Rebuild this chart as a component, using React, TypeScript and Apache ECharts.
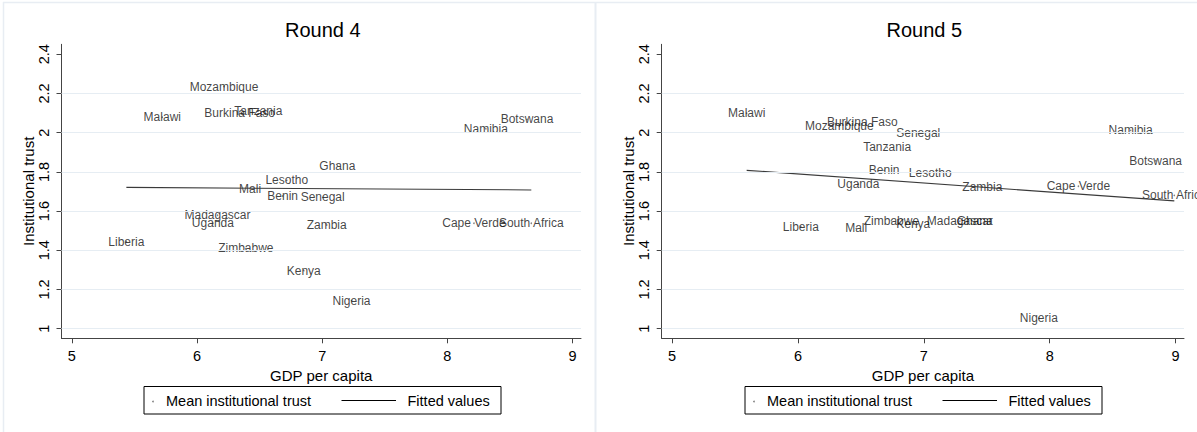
import React, { useEffect, useRef } from "react";
import * as echarts from "echarts";

// ---------- data ----------
const countries4 = [
  "Mozambique", "Malawi", "Burkina Faso", "Tanzania", "Botswana", "Namibia", "Ghana",
  "Lesotho", "Mali", "Benin", "Senegal", "Madagascar", "Uganda", "Zambia", "Cape Verde",
  "South Africa", "Liberia", "Zimbabwe", "Kenya", "Nigeria",
];
const gdp4 = [
  6.216, 5.723, 6.341, 6.49, 8.636, 8.307, 7.121,
  6.717, 6.424, 6.684, 7.004, 6.164, 6.127, 7.036, 8.212,
  8.67, 5.436, 6.39, 6.853, 7.234,
];
const trust4 = [
  2.235, 2.079, 2.099, 2.112, 2.068, 2.02, 1.832,
  1.757, 1.714, 1.677, 1.67, 1.579, 1.538, 1.529, 1.538,
  1.538, 1.444, 1.41, 1.296, 1.143,
];
const fitX4 = [5.436, 8.67];
const fitY4 = [1.721, 1.708];

const countries5 = [
  "Malawi", "Burkina Faso", "Mozambique", "Senegal", "Tanzania", "Namibia", "Botswana",
  "Benin", "Lesotho", "Uganda", "Zambia", "Cape Verde", "South Africa", "Liberia", "Mali",
  "Zimbabwe", "Kenya", "Madagascar", "Ghana", "Nigeria",
];
const gdp5 = [
  5.593, 6.511, 6.329, 6.956, 6.709, 8.643, 8.842,
  6.685, 7.051, 6.48, 7.465, 8.228, 8.99, 6.023, 6.463,
  6.743, 6.916, 7.286, 7.404, 7.914,
];
const trust5 = [
  2.099, 2.055, 2.034, 2.0, 1.925, 2.012, 1.857,
  1.808, 1.796, 1.737, 1.723, 1.727, 1.68, 1.52, 1.512,
  1.551, 1.534, 1.549, 1.549, 1.053,
];
const fitX5 = [5.593, 8.99];
const fitY5 = [1.808, 1.652];

const panelTitles = ["Round 4", "Round 5"];
const xTicks = [5, 6, 7, 8, 9];
const yTicks = [1, 1.2, 1.4, 1.6, 1.8, 2, 2.2, 2.4];
const gridValues = [1, 1.2, 1.4, 1.6, 1.8, 2, 2.2];
const xTitle = "GDP per capita";
const yTitle = "Institutional trust";
const legendLabels = ["Mean institutional trust", "Fitted values"];

// ---------- layout / style ----------
const FONT = '"Liberation Sans", Arial, Helvetica, sans-serif';
const X_MIN = 4.918;
const X_MAX = 9.067;
const Y_MIN = 0.951;
const Y_MAX = 2.451;
const grids = [
  { left: 61.5, top: 44.3, width: 519.5, height: 294 },
  { left: 661.7, top: 44.3, width: 522.3, height: 294 },
];
const AXIS_COLOR = "#444";
const GRID_COLOR = "#e6edf3";

function legendGraphic(left: number) {
  const top = 386.5;
  const cy = 400.5;
  return [
    {
      type: "rect",
      shape: { x: left, y: top, width: 357, height: 27.5 },
      style: { fill: "#fff", stroke: "#000", lineWidth: 1 },
      silent: true,
    },
    {
      type: "circle",
      shape: { cx: left + 9, cy: cy + 1, r: 0.8 },
      style: { fill: "#777" },
      silent: true,
    },
    {
      type: "text",
      x: left + 22,
      y: cy,
      style: {
        text: legendLabels[0],
        fontSize: 14.5,
        fontFamily: FONT,
        fill: "#000",
        align: "left",
        verticalAlign: "middle",
      },
      silent: true,
    },
    {
      type: "line",
      shape: { x1: left + 197.5, y1: cy, x2: left + 252, y2: cy },
      style: { stroke: "#000", lineWidth: 1 },
      silent: true,
    },
    {
      type: "text",
      x: left + 263.5,
      y: cy,
      style: {
        text: legendLabels[1],
        fontSize: 14.5,
        fontFamily: FONT,
        fill: "#000",
        align: "left",
        verticalAlign: "middle",
      },
      silent: true,
    },
  ];
}

function buildOption() {
  const rounds = [
    { names: countries4, xs: gdp4, ys: trust4, fx: fitX4, fy: fitY4 },
    { names: countries5, xs: gdp5, ys: trust5, fx: fitX5, fy: fitY5 },
  ];

  const xAxis = rounds.map((_, i) => ({
    type: "value",
    gridIndex: i,
    min: X_MIN,
    max: X_MAX,
    name: xTitle,
    nameLocation: "middle",
    nameGap: 24,
    nameTextStyle: { fontSize: 15, color: "#000", fontFamily: FONT },
    axisLine: { show: true, onZero: false, lineStyle: { color: AXIS_COLOR, width: 1 } },
    axisTick: { show: true, length: 5, customValues: xTicks, lineStyle: { color: AXIS_COLOR, width: 1 } },
    axisLabel: { customValues: xTicks, margin: 10, fontSize: 14.5, color: "#000", fontFamily: FONT },
    splitLine: { show: false },
  }));

  const yAxis = rounds.map((_, i) => ({
    type: "value",
    gridIndex: i,
    min: Y_MIN,
    max: Y_MAX,
    name: yTitle,
    nameLocation: "middle",
    nameGap: 24,
    nameTextStyle: { fontSize: 15, color: "#000", fontFamily: FONT },
    axisLine: { show: true, onZero: false, lineStyle: { color: AXIS_COLOR, width: 1 } },
    axisTick: { show: true, length: 5, customValues: yTicks, lineStyle: { color: AXIS_COLOR, width: 1 } },
    axisLabel: { customValues: yTicks, rotate: 90, margin: 10, fontSize: 14.5, color: "#000", fontFamily: FONT },
    splitLine: { show: false },
  }));

  const series: any[] = [];
  rounds.forEach((r, i) => {
    // grid lines (below everything)
    series.push({
      type: "scatter",
      xAxisIndex: i,
      yAxisIndex: i,
      z: 0,
      silent: true,
      data: [],
      markLine: {
        silent: true,
        symbol: ["none", "none"],
        label: { show: false },
        lineStyle: { color: GRID_COLOR, width: 1, type: "solid" },
        data: gridValues.map((v) => ({ yAxis: v })),
      },
    });
    series.push({
      type: "scatter",
      name: legendLabels[0],
      xAxisIndex: i,
      yAxisIndex: i,
      symbol: "circle",
      symbolSize: 1.6,
      itemStyle: { color: "#666" },
      z: 2,
      label: {
        show: true,
        position: "inside",
        formatter: "{b}",
        fontSize: 12,
        color: "#111",
        textBorderWidth: 0,
        textBorderColor: "transparent",
        fontFamily: FONT,
      },
      data: r.names.map((n, k) => ({ name: n, value: [r.xs[k], r.ys[k]] })),
    });
    series.push({
      type: "line",
      name: legendLabels[1],
      xAxisIndex: i,
      yAxisIndex: i,
      symbol: "none",
      z: 3,
      lineStyle: { color: "#3a3a3a", width: 1.1 },
      data: r.fx.map((x, k) => [x, r.fy[k]]),
    });
  });

  const titleTexts = panelTitles.map((t, i) => ({
    type: "text",
    x: grids[i].left + grids[i].width / 2 + 1.5,
    y: 29.5,
    style: {
      text: t,
      fontSize: 20,
      fontFamily: FONT,
      fill: "#000",
      align: "center",
      verticalAlign: "middle",
    },
    silent: true,
  }));

  const borders = [
    { type: "line", shape: { x1: 3, y1: 2.5, x2: 1197, y2: 2.5 }, style: { stroke: "#e8edf3", lineWidth: 1.5 }, silent: true },
    { type: "line", shape: { x1: 3.5, y1: 2, x2: 3.5, y2: 432 }, style: { stroke: "#e8edf3", lineWidth: 1.5 }, silent: true },
    { type: "line", shape: { x1: 595.5, y1: 2, x2: 595.5, y2: 432 }, style: { stroke: "#e8edf3", lineWidth: 2 }, silent: true },
  ];

  return {
    animation: false,
    backgroundColor: "#fff",
    textStyle: { fontFamily: FONT },
    grid: grids.map((g) => ({ ...g, containLabel: false, outerBoundsMode: "none" })),
    xAxis,
    yAxis,
    series,
    graphic: [...borders, ...titleTexts, ...legendGraphic(144), ...legendGraphic(745)],
  };
}

export default function App() {
  const ref = useRef<HTMLDivElement>(null);
  useEffect(() => {
    document.body.style.margin = "0";
    if (!ref.current) return;
    const chart = echarts.init(ref.current, undefined, { renderer: "svg" });
    chart.setOption(buildOption() as any);
    return () => chart.dispose();
  }, []);
  return <div ref={ref} style={{ width: 1197, height: 432 }} />;
}
